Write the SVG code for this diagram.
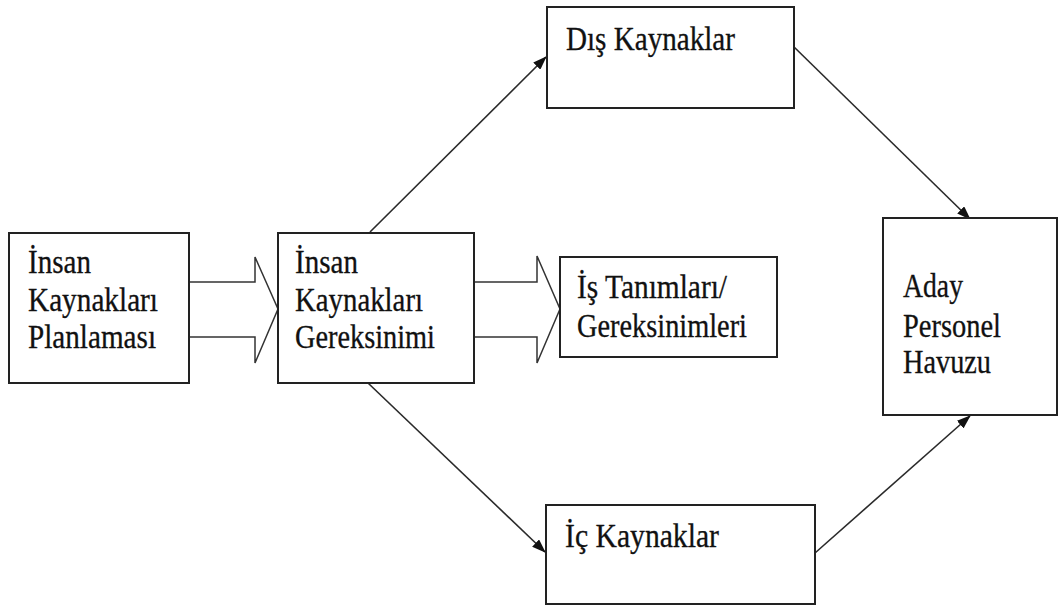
<svg xmlns="http://www.w3.org/2000/svg" width="1060" height="608" viewBox="0 0 1060 608">
<style>
.box{fill:#fff;stroke:#222;stroke-width:2}
.blk{fill:#fff;stroke:#333;stroke-width:1.5;stroke-linejoin:miter}
.con{fill:none;stroke:#2a2a2a;stroke-width:1.6}
.t{font-family:'Liberation Serif','Times New Roman',serif;font-size:33px;fill:#111;stroke:#111;stroke-width:0.3}
</style>
<defs>
<marker id="ah" markerWidth="14" markerHeight="10" refX="13" refY="5" orient="auto" markerUnits="userSpaceOnUse">
<path d="M0,0 L14,5 L0,10 Z" fill="#111"/>
</marker>
</defs>
<rect width="1060" height="608" fill="#fff"/>
<g id="connectors">
<path class="blk" d="M189,282 H255 V257 L278,309 L255,363 V337 H189"/>
<path class="blk" d="M474,282 H537 V256 L560,309 L537,363 V337 H474"/>
<line class="con" x1="370" y1="232" x2="546" y2="57" marker-end="url(#ah)"/>
<line class="con" x1="792" y1="45" x2="970" y2="219" marker-end="url(#ah)"/>
<line class="con" x1="368" y1="383" x2="545" y2="552" marker-end="url(#ah)"/>
<line class="con" x1="815" y1="553" x2="970" y2="416" marker-end="url(#ah)"/>
</g>
<g id="n1" class="t">
<rect class="box" x="9" y="233" width="180" height="150"/>
<text x="28" y="273" textLength="63" lengthAdjust="spacingAndGlyphs">İnsan</text>
<text x="28" y="311" textLength="130" lengthAdjust="spacingAndGlyphs">Kaynakları</text>
<text x="28" y="348" textLength="128" lengthAdjust="spacingAndGlyphs">Planlaması</text>
</g>
<g id="n2" class="t">
<rect class="box" x="278" y="233" width="196" height="150"/>
<text x="295" y="273" textLength="63" lengthAdjust="spacingAndGlyphs">İnsan</text>
<text x="295" y="311" textLength="128" lengthAdjust="spacingAndGlyphs">Kaynakları</text>
<text x="295" y="348" textLength="140" lengthAdjust="spacingAndGlyphs">Gereksinimi</text>
</g>
<g id="n3" class="t">
<rect class="box" x="560" y="257" width="217" height="100"/>
<text x="577" y="298" textLength="150" lengthAdjust="spacingAndGlyphs">İş Tanımları/</text>
<text x="577" y="337" textLength="170" lengthAdjust="spacingAndGlyphs">Gereksinimleri</text>
</g>
<g id="n4" class="t">
<rect class="box" x="547" y="7" width="247" height="101"/>
<text x="566" y="50" textLength="169" lengthAdjust="spacingAndGlyphs">Dış Kaynaklar</text>
</g>
<g id="n5" class="t">
<rect class="box" x="546" y="505" width="269" height="99"/>
<text x="565" y="547" textLength="154" lengthAdjust="spacingAndGlyphs">İç Kaynaklar</text>
</g>
<g id="n6" class="t">
<rect class="box" x="883" y="218" width="174" height="197"/>
<text x="903" y="297" textLength="60" lengthAdjust="spacingAndGlyphs">Aday</text>
<text x="903" y="337" textLength="98" lengthAdjust="spacingAndGlyphs">Personel</text>
<text x="903" y="373" textLength="88" lengthAdjust="spacingAndGlyphs">Havuzu</text>
</g>
</svg>
